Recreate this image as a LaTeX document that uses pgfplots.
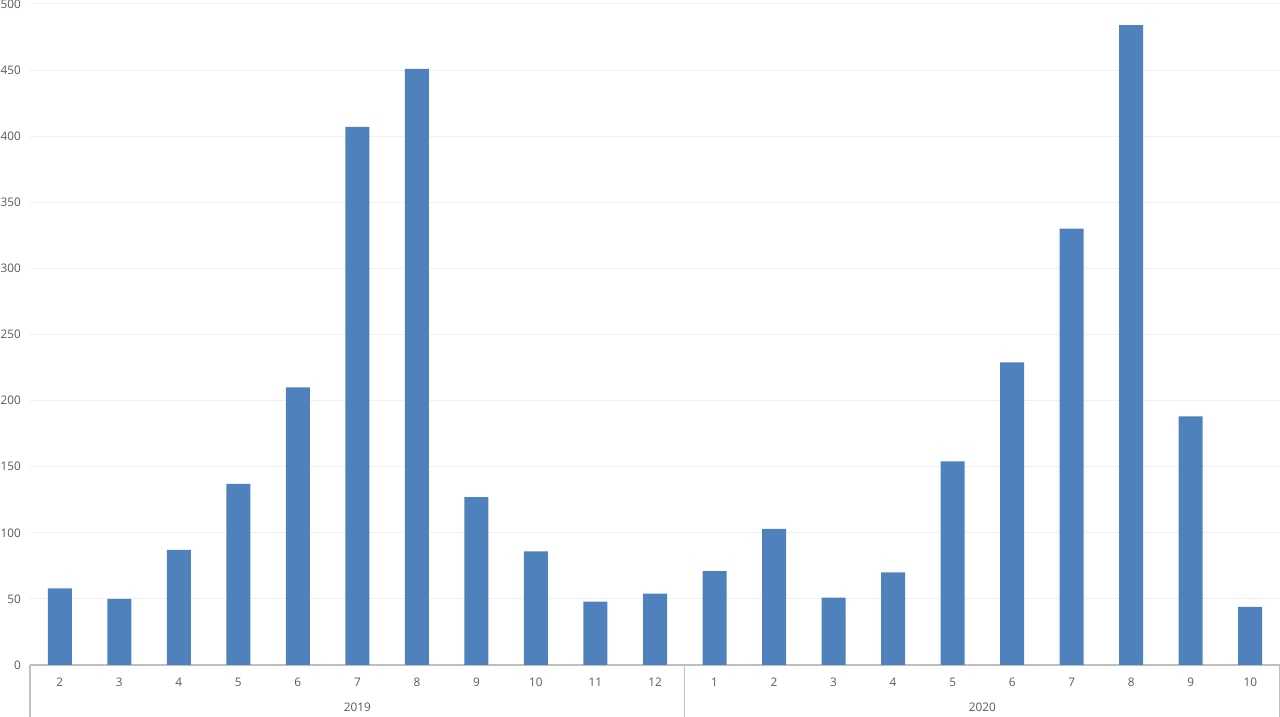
\documentclass[border=0pt]{standalone}
\usepackage{pgfplots}
\pgfplotsset{compat=1.18}
\usepackage{fontspec}
\setmainfont{Open Sans}
\definecolor{barblue}{HTML}{4F81BD}
\definecolor{txtgray}{HTML}{595959}
\definecolor{axgray}{HTML}{BFBFBF}
\definecolor{gridgray}{HTML}{F0F0F0}

\begin{document}
\begin{tikzpicture}
\useasboundingbox (-15pt,-26pt) rectangle (625pt,332.5pt);
\begin{axis}[
    at={(0,0)}, anchor=south west,
    scale only axis,
    width=625pt, height=330.5pt,
    xmin=-0.5, xmax=20.5,
    ymin=0, ymax=500,
    ytick={0,50,...,500},
    xtick={0,...,20},
    xticklabels={2,3,4,5,6,7,8,9,10,11,12,1,2,3,4,5,6,7,8,9,10},
    major tick length=0pt,
    axis x line*=bottom,
    axis y line*=left,
    x axis line style={axgray, line width=0.6pt, -},
    y axis line style={draw=none, -},
    ymajorgrids,
    grid style={gridgray, line width=0.5pt},
    tick label style={font=\fontsize{5.9}{7}\selectfont, text=txtgray},
    /pgf/number format/assume math mode=true,
    xticklabel style={yshift=-3pt},
    yticklabel style={xshift=-1pt},
    ybar, bar width=12pt,
    clip=false,
]
\addplot[fill=barblue, draw=none] coordinates {
    (0,58) (1,50) (2,87) (3,137) (4,210) (5,407) (6,451) (7,127) (8,86) (9,48) (10,54)
    (11,71) (12,103) (13,51) (14,70) (15,154) (16,229) (17,330) (18,484) (19,188) (20,44)
};
\draw[axgray, line width=0.6pt] (axis cs:-0.5,0) -- ([yshift=-26pt]axis cs:-0.5,0);
\draw[axgray, line width=0.6pt] (axis cs:10.5,0) -- ([yshift=-26pt]axis cs:10.5,0);
\draw[axgray, line width=0.6pt] (axis cs:20.5,0) -- ([yshift=-26pt]axis cs:20.5,0);
\node[font=\fontsize{5.9}{7}\selectfont, text=txtgray] at ([yshift=-21pt]axis cs:5,0) {2019};
\node[font=\fontsize{5.9}{7}\selectfont, text=txtgray] at ([yshift=-21pt]axis cs:15.5,0) {2020};
\end{axis}
\end{tikzpicture}
\end{document}
